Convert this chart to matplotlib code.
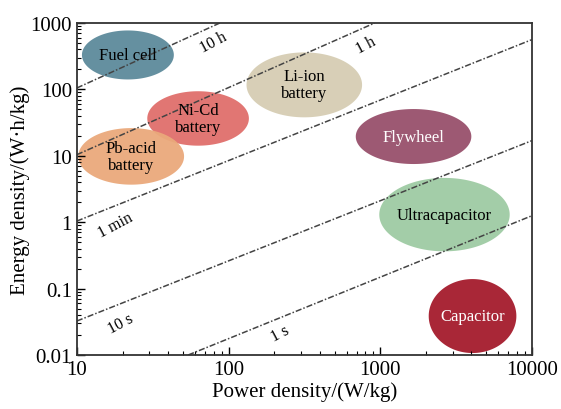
import numpy as np
import matplotlib
matplotlib.use("Agg")
import matplotlib.pyplot as plt

plt.rcParams["font.family"] = ["Liberation Serif", "DejaVu Serif"]

# Storage technologies: centre (W/kg, Wh/kg) and half-spread in decades
names = ["Fuel cell", "Ni-Cd\nbattery", "Pb-acid\nbattery", "Li-ion\nbattery",
         "Flywheel", "Ultracapacitor", "Capacitor"]
center_p = [21.7, 63, 22.8, 316, 1660, 2655, 4065]
center_e = [330, 36.5, 9.8, 117, 19.5, 1.3, 0.0386]
spread_p = [0.303, 0.335, 0.349, 0.381, 0.381, 0.43, 0.289]
spread_e = [0.369, 0.41, 0.426, 0.489, 0.414, 0.553, 0.557]
colors = ["#5d8a9b", "#e06f6b", "#eaa97b", "#d6cdb3", "#98506b", "#9ecba3", "#a51b2c"]
text_colors = ["black", "black", "black", "black", "white", "black", "white"]

# discharge-time lines (end points)
time_labels = ["10 h", "1 h", "1 min", "10 s", "1 s"]
line_p = [[10, 87.7], [10, 920], [10, 10000], [10, 10000], [54.2, 10000]]
line_e = [[105, 1000], [10.4, 1000], [1.04, 561], [0.0325, 16.9], [0.01, 1.25]]
label_p = [80, 800, 18, 19.5, 220]
label_e = [520, 470, 0.93, 0.03, 0.021]

fig = plt.figure(figsize=(5.61, 4.10), dpi=100)
ax = fig.add_axes([0.137, 0.1317, 0.811, 0.8098])

t = np.linspace(0, 2 * np.pi, 200)
for i in range(len(names)):
    lx = np.log10(center_p[i]) + spread_p[i] * np.cos(t)
    ly = np.log10(center_e[i]) + spread_e[i] * np.sin(t)
    ax.fill(10 ** lx, 10 ** ly, color=colors[i], alpha=0.95, lw=0, zorder=1)
    ax.text(center_p[i], center_e[i], names[i], ha="center", va="center",
            fontsize=12, color=text_colors[i], zorder=3, linespacing=1.1)

for i in range(len(time_labels)):
    ax.plot(line_p[i], line_e[i], color="#444444", lw=1.1,
            linestyle=(0, (4, 1.3, 1, 1.3)), zorder=2)
    ax.text(label_p[i], label_e[i], time_labels[i], ha="center", va="center",
            fontsize=11.5, rotation=28, zorder=3)

ax.set_xscale("log")
ax.set_yscale("log")
ax.set_xlim(10, 10000)
ax.set_ylim(0.01, 1000)
ax.set_xticks([10, 100, 1000, 10000])
ax.set_xticklabels(["10", "100", "1000", "10000"])
ax.set_yticks([0.01, 0.1, 1, 10, 100, 1000])
ax.set_yticklabels(["0.01", "0.1", "1", "10", "100", "1000"])
ax.tick_params(which="both", direction="in", labelsize=15, top=False, right=False)
ax.tick_params(which="major", length=6, width=1)
ax.tick_params(which="minor", length=3, width=0.8)
for s in ax.spines.values():
    s.set_linewidth(1.3)
    s.set_color("#333333")

ax.set_xlabel("Power density/(W/kg)", fontsize=15, labelpad=2)
ax.set_ylabel("Energy density/(W\u00b7h/kg)", fontsize=15, labelpad=0)

fig.savefig("out.png", dpi=100)
